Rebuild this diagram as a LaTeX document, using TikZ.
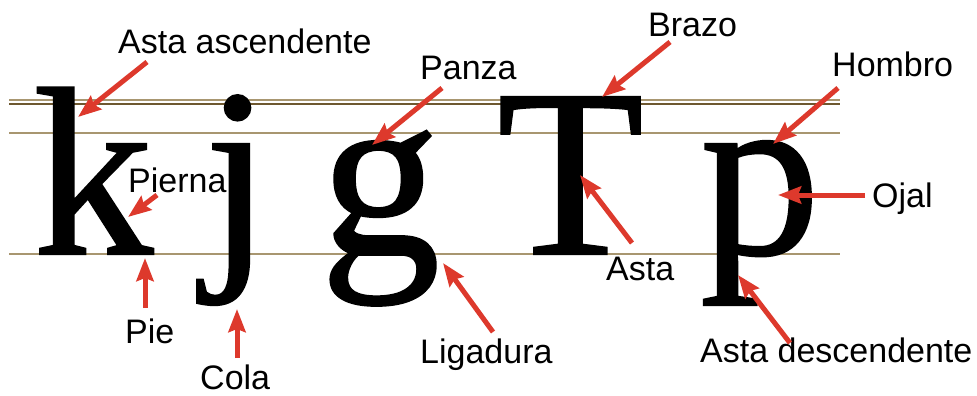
\documentclass[tikz,border=0pt]{standalone}
\usepackage{fontspec}
\setmainfont{Liberation Sans}
\newfontfamily\glyphfont[BoldFont=Liberation Serif,
  BoldFeatures={FakeBold=0.9}]{Liberation Serif}
\usetikzlibrary{arrows.meta}

\definecolor{guidetan}{RGB}{168,150,112}
\definecolor{guidedark}{RGB}{110,88,48}
\definecolor{partred}{RGB}{221,57,44}

\begin{document}
\begin{tikzpicture}[
  x=1pt, y=-1pt,
  glyph/.style={anchor=base west, inner sep=0pt,
                font=\glyphfont\bfseries\fontsize{240}{250}\selectfont},
  lbl/.style={anchor=base west, inner sep=0pt,
              font=\fontsize{34}{36}\selectfont},
  guide/.style={draw=guidetan, line width=1.8pt},
  arr/.style={draw=partred, line width=5pt,
              -{Stealth[length=23pt, width=17pt, inset=3pt]}},
]
  \useasboundingbox (0,0) rectangle (977,396);

  %% ── Guide lines ──
  \draw[guide] (9,100) -- (840,100);
  \draw[guide, draw=guidedark, line width=1.4pt] (9,104) -- (840,104);
  \draw[guide] (9,133) -- (840,133);
  \draw[guide, line width=2.2pt] (9,254) -- (840,254);

  %% ── Letters ──
  \node[glyph] (k) at (33,254)  {k};
  \node[glyph] (j) at (204,254) {j};
  \node[glyph] (g) at (320,254) {g};
  \node[glyph] (T) at (497,254) {T};
  \node[glyph] (p) at (700,254) {p};

  %% ── Labels ──
  \node[lbl] (ascendente)  at (118,53)  {Asta ascendente};
  \node[lbl] (pierna)      at (128,192) {Pierna};
  \node[lbl] (pie)         at (125,343) {Pie};
  \node[lbl] (cola)        at (200,389) {Cola};
  \node[lbl] (panza)       at (420,80)  {Panza};
  \node[lbl] (ligadura)    at (420,363) {Ligadura};
  \node[lbl] (brazo)       at (648,37)  {Brazo};
  \node[lbl] (asta)        at (606,280) {Asta};
  \node[lbl] (hombro)      at (832,77)  {Hombro};
  \node[lbl] (ojal)        at (872,207) {Ojal};
  \node[lbl] (descendente) at (700,362) {Asta descendente};

  %% ── Arrow ends ──
  \coordinate (ascendente-from)  at (147,62);
  \coordinate (ascendente-to)    at (78,117);
  \coordinate (pierna-from)      at (157,195);
  \coordinate (pierna-to)        at (128,217);
  \coordinate (pie-from)         at (145,308);
  \coordinate (pie-to)           at (145,258);
  \coordinate (cola-from)        at (237,358);
  \coordinate (cola-to)          at (237,309);
  \coordinate (panza-from)       at (442,88);
  \coordinate (panza-to)         at (372,145);
  \coordinate (ligadura-from)    at (493,332);
  \coordinate (ligadura-to)      at (443,263);
  \coordinate (brazo-from)       at (670,42);
  \coordinate (brazo-to)         at (602,97);
  \coordinate (asta-from)        at (632,243);
  \coordinate (asta-to)          at (580,175);
  \coordinate (hombro-from)      at (838,88);
  \coordinate (hombro-to)        at (773,144);
  \coordinate (ojal-from)        at (865,195);
  \coordinate (ojal-to)          at (778,195);
  \coordinate (descendente-from) at (790,343);
  \coordinate (descendente-to)   at (738,275);

  %% ═══════ ARROWS ═══════
  \foreach \part in {ascendente, pierna, pie, cola, panza, ligadura,
                     brazo, asta, hombro, ojal, descendente}
    \draw[arr] (\part-from) -- (\part-to);
\end{tikzpicture}
\end{document}
